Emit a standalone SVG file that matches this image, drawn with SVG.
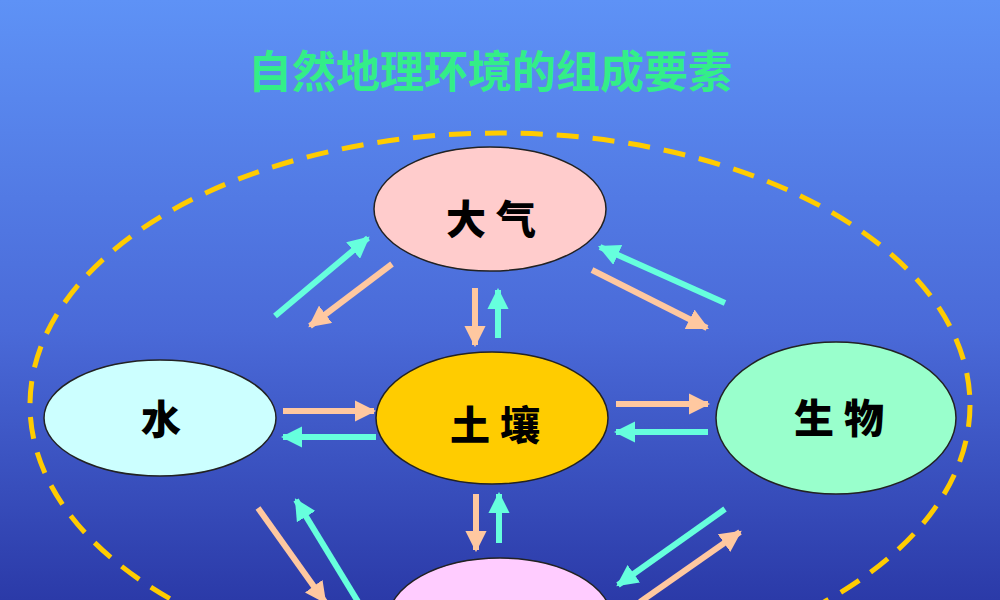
<svg xmlns="http://www.w3.org/2000/svg" width="1000" height="600" viewBox="0 0 1000 600">
<defs>
<linearGradient id="bg" x1="0" y1="0" x2="0" y2="1"><stop offset="0" stop-color="#5e92f6"/><stop offset="0.55" stop-color="#4a6ad8"/><stop offset="1" stop-color="#2b3aa8"/></linearGradient>
<marker id="hp" viewBox="0 0 10 10" refX="9" refY="5" markerWidth="3.6" markerHeight="3.6" orient="auto" markerUnits="strokeWidth"><path d="M0,0L10,5L0,10z" fill="#ffc8a0"/></marker>
<marker id="hc" viewBox="0 0 10 10" refX="9" refY="5" markerWidth="3.6" markerHeight="3.6" orient="auto" markerUnits="strokeWidth"><path d="M0,0L10,5L0,10z" fill="#66ffdd"/></marker>
</defs>
<style>
.p{stroke:#ffc8a0;stroke-width:6;marker-end:url(#hp)}
.c{stroke:#66ffdd;stroke-width:6;marker-end:url(#hc)}
.n{stroke:#222;stroke-width:1.5}
.t{font-family:"Noto Sans CJK SC",sans-serif;font-weight:900;font-size:40px;fill:#000;text-anchor:middle;letter-spacing:10px}
</style>
<rect width="1000" height="600" fill="url(#bg)"/>
<text x="490" y="88" font-family="Noto Sans CJK SC,sans-serif" font-weight="bold" font-size="44" fill="#33ee88" text-anchor="middle">自然地理环境的组成要素</text>
<ellipse cx="500" cy="405" rx="470" ry="272" fill="none" stroke="#ffcc00" stroke-width="5" stroke-dasharray="22 14"/>
<g id="connectors">
<line class="c" x1="275" y1="316" x2="368" y2="238"/>
<line class="p" x1="392" y1="264" x2="310" y2="326"/>
<line class="p" x1="475" y1="288" x2="475" y2="345"/>
<line class="c" x1="498" y1="338" x2="498" y2="290"/>
<line class="c" x1="725" y1="303" x2="600" y2="247"/>
<line class="p" x1="592" y1="270" x2="707" y2="328"/>
<line class="p" x1="283" y1="411" x2="374" y2="411"/>
<line class="c" x1="376" y1="437" x2="283" y2="437"/>
<line class="p" x1="616" y1="404" x2="708" y2="404"/>
<line class="c" x1="708" y1="432" x2="616" y2="432"/>
<line class="p" x1="476" y1="494" x2="476" y2="550"/>
<line class="c" x1="499" y1="543" x2="499" y2="494"/>
<line class="p" x1="258" y1="508" x2="325" y2="602"/>
<line class="c" x1="360" y1="605" x2="296" y2="500"/>
<line class="c" x1="725" y1="509" x2="618" y2="585"/>
<line class="p" x1="640" y1="602" x2="740" y2="532"/>
</g>
<g id="n-daqi"><ellipse class="n" cx="490" cy="209" rx="116" ry="62" fill="#ffcccc"/><text class="t" x="496" y="234">大气</text></g>
<g id="n-shui"><ellipse class="n" cx="160" cy="418" rx="116" ry="58" fill="#ccffff"/><text class="t" x="166" y="434">水</text></g>
<g id="n-turang"><ellipse class="n" cx="492" cy="418" rx="116" ry="66" fill="#ffcc00"/><text class="t" x="500" y="440">土壤</text></g>
<g id="n-shengwu"><ellipse class="n" cx="836" cy="418" rx="120" ry="76" fill="#99ffcc"/><text class="t" x="844" y="433">生物</text></g>
<g id="n-bottom"><ellipse class="n" cx="500" cy="620" rx="112" ry="62" fill="#ffccff"/></g>
</svg>
